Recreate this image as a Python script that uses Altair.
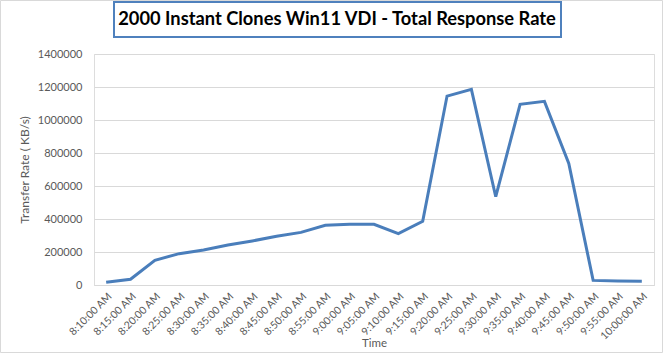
import altair as alt
import pandas as pd

times = ["8:10:00 AM", "8:15:00 AM", "8:20:00 AM", "8:25:00 AM", "8:30:00 AM",
         "8:35:00 AM", "8:40:00 AM", "8:45:00 AM", "8:50:00 AM", "8:55:00 AM",
         "9:00:00 AM", "9:05:00 AM", "9:10:00 AM", "9:15:00 AM", "9:20:00 AM",
         "9:25:00 AM", "9:30:00 AM", "9:35:00 AM", "9:40:00 AM", "9:45:00 AM",
         "9:50:00 AM", "9:55:00 AM", "10:00:00 AM"]
rates = [16000, 35000, 150000, 190000, 212000, 242000, 267000, 295000, 319000,
         362000, 368000, 368000, 311000, 386000, 1145000, 1186000, 535000,
         1095000, 1113000, 737000, 28000, 24000, 22000]
y_ticks = [0, 200000, 400000, 600000, 800000, 1000000, 1200000, 1400000]

title_text = ["2000 Instant Clones Win11 VDI - Total Response Rate"]

df = pd.DataFrame({"Time": times, "Rate": rates})

W, H = 560, 231
FONT = "Lato"
GRAY = "#595959"

line = alt.Chart(df).mark_line(color="#4A7EBB", strokeWidth=3).encode(
    x=alt.X("Time:N", sort=times,
            scale=alt.Scale(type="point", padding=0.5),
            axis=alt.Axis(title="Time", labelAngle=-45, labelFont=FONT, labelFontSize=10.5,
                          labelColor=GRAY, ticks=False, grid=False, domain=True,
                          domainColor="#D9D9D9", labelPadding=6, titleFont=FONT,
                          titleFontSize=11.5, titleColor=GRAY, titleFontWeight="normal",
                          titleY=58, titleBaseline="middle", labelOverlap=False)),
    y=alt.Y("Rate:Q", scale=alt.Scale(domain=[0, 1400000], nice=False),
            axis=alt.Axis(values=y_ticks, format="d", title="Transfer Rate ( KB/s)",
                          labelFont=FONT, labelFontSize=11, labelColor=GRAY,
                          ticks=False, domain=False, gridColor="#D9D9D9",
                          labelPadding=12, titleFont=FONT, titleFontSize=12,
                          titleColor=GRAY, titleFontWeight="normal", titlePadding=6)),
)

one = pd.DataFrame({"title": title_text})
title_box = alt.Chart(one).mark_rect(filled=False, stroke="#4F81BD", strokeWidth=2).encode(
    x=alt.value(20), x2=alt.value(467), y=alt.value(-52), y2=alt.value(-17))
title_mark = alt.Chart(one).mark_text(font=FONT, fontSize=18.3, fontWeight="bold",
                                      color="black", align="center",
                                      baseline="middle").encode(
    text="title:N", x=alt.value(243), y=alt.value(-34))
outer = alt.Chart(one).mark_rect(filled=False, stroke="#D9D9D9", strokeWidth=1).encode(
    x=alt.value(-93.5), x2=alt.value(568.5), y=alt.value(-53.5), y2=alt.value(298.5))

chart = alt.layer(outer, title_box, title_mark, line).properties(
    width=W, height=H,
    autosize=alt.AutoSizeParams(type="none"),
    padding={"left": 94, "top": 54, "right": 10, "bottom": 69},
).configure_view(stroke=None).configure(background="white")

chart.save("out.html", embed_options={"renderer": "svg", "actions": False})
